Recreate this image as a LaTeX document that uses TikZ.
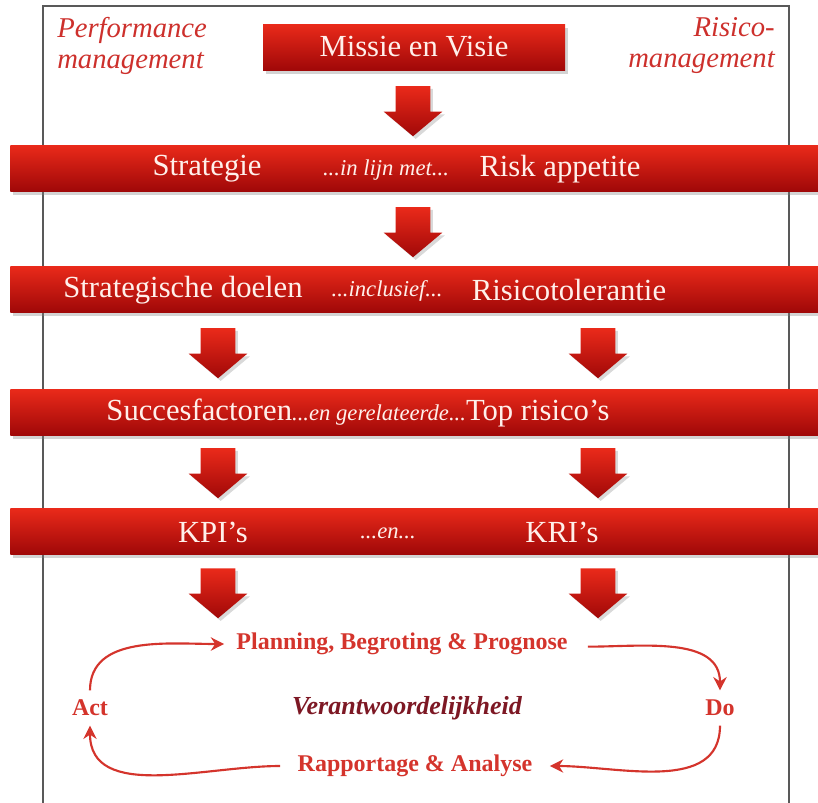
\documentclass[tikz,border=0pt]{standalone}
\usepackage{fontspec}
\setmainfont{Liberation Serif}
\usetikzlibrary{shapes.arrows,shadows,arrows.meta}

\definecolor{barTop}{RGB}{234,42,26}
\definecolor{barBot}{RGB}{160,8,8}
\definecolor{labRed}{RGB}{205,48,44}
\definecolor{cycRed}{RGB}{212,52,44}
\definecolor{verRed}{RGB}{125,24,36}
\definecolor{barTxt}{RGB}{255,240,235}

\tikzset{
  bar/.style={rectangle, inner sep=0pt, top color=barTop, bottom color=barBot,
    minimum height=34.5pt, drop shadow={opacity=0.35, shadow xshift=2pt, shadow yshift=-3pt}},
  bartxt/.style={text=barTxt, font=\fontsize{23}{26}\selectfont, inner sep=0pt},
  linktxt/.style={text=barTxt, font=\fontsize{17}{19}\selectfont\itshape, inner sep=0pt},
  blockarrow/.style={single arrow, shape border rotate=270, inner sep=12.75pt,
    minimum height=37.5pt, minimum width=43.5pt, single arrow head extend=9pt,
    single arrow tip angle=100, top color=barTop, bottom color=barBot,
    drop shadow={opacity=0.3, shadow xshift=2pt, shadow yshift=-2pt}},
  sidetxt/.style={text=labRed, font=\fontsize{21.5}{23.5}\selectfont\itshape, inner sep=0pt},
  cyctxt/.style={text=cycRed, font=\fontsize{18}{20}\selectfont\bfseries, inner sep=1pt},
  cyc/.style={draw=cycRed, line width=1.6pt, -{Stealth[length=10pt,width=10pt]}}
}

\begin{document}
\begin{tikzpicture}[x=0.75pt, y=-0.75pt]
\useasboundingbox (0,0) rectangle (818,803);

% frame
\draw[gray!70!black, line width=0.9pt] (43,803) -- (43,6) -- (789,6) -- (789,803);

% side labels
\node[sidetxt, anchor=north west, align=left] (perf) at (57,17) {Performance\\management};
\node[sidetxt, anchor=north east, align=right] (risico) at (775,17) {Risico-\\management};

% bars
\node[bar, minimum width=226.5pt] (missie) at (414,47) {};
\node[bartxt] (missietxt) at (missie.center) {Missie en Visie};
\node[bar, minimum width=607pt] (strat) at (415,168) {};
\node[bar, minimum width=607pt] (doelen) at (415,289) {};
\node[bar, minimum width=607pt] (succes) at (415,412) {};
\node[bar, minimum width=607pt] (kpi) at (415,531) {};

% bar texts
\node[bartxt] (stratL) at (207,169) {Strategie};
\node[linktxt] (stratM) at (386,170) {...in lijn met...};
\node[bartxt] (stratR) at (560,169) {Risk appetite};

\node[bartxt] (doelL) at (183,290) {Strategische doelen};
\node[linktxt] (doelM) at (387,291) {...inclusief...};
\node[bartxt] (doelR) at (569,290) {Risicotolerantie};

\node[bartxt] (succesT) at (358,413) {Succesfactoren{\fontsize{17}{19}\selectfont\itshape...en gerelateerde...}Top risico’s};

\node[bartxt] (kpiL) at (213,532) {KPI’s};
\node[linktxt] (kpiM) at (388,533) {...en...};
\node[bartxt] (kpiR) at (562,532) {KRI’s};

% block arrows
\node[blockarrow] (a1) at (413,104) {};
\node[blockarrow] (a2) at (413,225) {};
\node[blockarrow] (a3l) at (218,346) {};
\node[blockarrow] (a3r) at (598,346) {};
\node[blockarrow] (a4l) at (218,466) {};
\node[blockarrow] (a4r) at (598,466) {};
\node[blockarrow] (a5l) at (218,586) {};
\node[blockarrow] (a5r) at (598,586) {};

% cycle
\node[cyctxt] (plan) at (402,644) {Planning, Begroting \& Prognose};
\node[cyctxt] (act) at (90,708) {Act};
\node[cyctxt] (do) at (720,708) {Do};
\node[cyctxt, text=verRed, font=\fontsize{19.5}{21}\selectfont\bfseries\itshape] (verant) at (407,708) {Verantwoordelijkheid};
\node[cyctxt] (rapp) at (415,766) {Rapportage \& Analyse};

\draw[cyc] ([yshift=6pt]act.north) to[out=90, in=180] ([xshift=-8pt]plan.west);
\draw[cyc] ([xshift=14pt,yshift=-2pt]plan.east) to[out=0, in=90] ([yshift=6pt]do.north);
\draw[cyc] ([yshift=-6pt]do.south) to[out=-90, in=0] ([xshift=12pt]rapp.east);
\draw[cyc] ([xshift=-12pt]rapp.west) to[out=180, in=-90] ([yshift=-6pt]act.south);
\end{tikzpicture}
\end{document}
